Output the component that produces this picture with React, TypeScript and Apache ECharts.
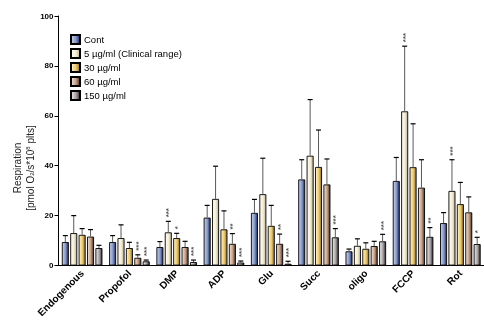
import React, { useEffect, useRef } from "react";
import * as echarts from "echarts";

const categories = ["Endogenous", "Propofol", "DMP", "ADP", "Glu", "Succ", "oligo", "FCCP", "Rot"];
const seriesNames = ["Cont", "5 µg/ml (Clinical range)", "30 µg/ml", "60 µg/ml", "150 µg/ml"];

const cont = [9.4, 9.4, 7.4, 19.2, 21.1, 34.5, 5.7, 33.9, 17];
const contSd = [2.6, 2.6, 2.2, 4.9, 5.4, 7.9, 0.9, 9.4, 4.2];
const c5 = [13, 11, 13.3, 26.7, 28.6, 44, 7.9, 61.8, 29.9];
const c5Sd = [7, 5.3, 4.4, 13.1, 14.4, 22.5, 2.8, 26.1, 12.5];
const c30 = [12.3, 7, 11, 14.5, 15.9, 39.5, 6.7, 39.4, 24.6];
const c30Sd = [2.5, 2.3, 1.9, 7.4, 8.2, 14.8, 2.4, 17.4, 8.7];
const c60 = [11.6, 3.1, 7.4, 8.7, 8.7, 32.5, 7.8, 31.2, 21.3];
const c60Sd = [2.8, 1.2, 2.3, 4.1, 3.9, 10.2, 1.9, 11.2, 6.2];
const c150 = [7, 1.7, 1.4, 1.2, 0.7, 11.3, 9.7, 11.5, 8.6];
const c150Sd = [1.1, 0.5, 0.8, 0.6, 1.0, 3.5, 2.8, 3.7, 2.7];

const sigCont = ["", "", "", "", "", "", "", "", ""];
const sig5 = ["", "", "***", "", "", "", "", "***", "***"];
const sig30 = ["", "", "*", "", "", "", "", "", ""];
const sig60 = ["", "***", "", "**", "**", "", "", "", ""];
const sig150 = ["", "***", "***", "***", "***", "***", "***", "**", "*"];

const yTicks = [0, 20, 40, 60, 80, 100];

const means = [cont, c5, c30, c60, c150];
const sds = [contSd, c5Sd, c30Sd, c60Sd, c150Sd];
const sigs = [sigCont, sig5, sig30, sig60, sig150];

const grads = [
  ["#ccd3e4", "#8596c4", "#1c2a68"],
  ["#fffdf6", "#f3ecd8", "#bfb08c"],
  ["#fff4d4", "#e9c875", "#8d6a1c"],
  ["#f3e6de", "#c39f88", "#50321f"],
  ["#ecebeb", "#aaa4a4", "#332d2d"],
];

const FONT = "'Liberation Sans', Arial, sans-serif";
const BAR_W = 7;
const PITCH = 8.4;

function gradient(c: string[]) {
  return new echarts.graphic.LinearGradient(0, 0, 1, 0, [
    { offset: 0, color: c[0] },
    { offset: 0.55, color: c[1] },
    { offset: 1, color: c[2] },
  ]);
}

export default function App() {
  const ref = useRef<HTMLDivElement>(null);
  useEffect(() => {
    if (!ref.current) return;
    const chart = echarts.init(ref.current, null, { renderer: "svg" });

    const barSeries = seriesNames.map((name, k) => ({
      name,
      type: "bar",
      barWidth: BAR_W,
      barGap: "20%",
      data: means[k],
      itemStyle: { color: gradient(grads[k]), borderColor: "#000", borderWidth: 0.9 },
      z: 2,
    }));

    const errSeries = seriesNames.map((_, k) => ({
      type: "custom",
      z: 3,
      data: means[k].map((m, i) => [i, m, m + sds[k][i]]),
      encode: { x: 0, y: [1, 2] },
      renderItem: (params: any, api: any) => {
        const ci = api.value(0);
        const p0 = api.coord([ci, api.value(1)]);
        const p1 = api.coord([ci, api.value(2)]);
        const x = p0[0] + (k - 2) * PITCH;
        const children: any[] = [
          { type: "line", shape: { x1: x, y1: p0[1], x2: x, y2: p1[1] }, style: { stroke: "#5a5a5a", lineWidth: 1 } },
          { type: "line", shape: { x1: x - 2.5, y1: p1[1], x2: x + 2.5, y2: p1[1] }, style: { stroke: "#000", lineWidth: 1.2 } },
        ];
        const s = sigs[k][params.dataIndex];
        if (s) {
          children.push({
            type: "text",
            x: x + 0.5,
            y: p1[1] - 4,
            rotation: Math.PI / 2,
            style: { text: s, font: `bold 8px ${FONT}`, fill: "#555", align: "left", verticalAlign: "middle" },
          });
        }
        return { type: "group", children };
      },
    }));

    chart.setOption({
      animation: false,
      grid: { left: 58.5, right: -6.5, top: 16, bottom: 51 },
      legend: {
        data: seriesNames,
        orient: "vertical",
        left: 70,
        top: 34,
        padding: 0,
        itemWidth: 9,
        itemHeight: 9,
        itemGap: 3,
        icon: "rect",
        textStyle: { fontFamily: FONT, fontSize: 9.5, color: "#000", padding: [0, 0, 0, -1] },
      },
      xAxis: {
        type: "category",
        data: categories,
        axisLine: { lineStyle: { color: "#000", width: 1 } },
        axisTick: { alignWithLabel: true, length: 4, lineStyle: { color: "#000" } },
        axisLabel: { rotate: 45, fontFamily: FONT, fontSize: 10, fontWeight: "bold", color: "#000", margin: 6, interval: 0 },
      },
      yAxis: {
        type: "value",
        min: yTicks[0],
        max: yTicks[yTicks.length - 1],
        interval: 20,
        splitLine: { show: false },
        axisLine: { show: true, lineStyle: { color: "#000", width: 1 } },
        axisTick: { show: true, length: 4, lineStyle: { color: "#000" } },
        axisLabel: { fontFamily: FONT, fontSize: 8, fontWeight: "bold", color: "#000", margin: 5 },
      },
      graphic: [
        {
          type: "text",
          x: 17,
          y: 168,
          rotation: Math.PI / 2,
          style: { text: "Respiration", font: `10px ${FONT}`, fill: "#222", align: "center", verticalAlign: "middle" },
        },
        {
          type: "text",
          x: 30,
          y: 168,
          rotation: Math.PI / 2,
          style: {
            text: "[pmol O{sub|2}/s*10{sup|8} plts]",
            font: `10px ${FONT}`,
            fill: "#222",
            align: "center",
            verticalAlign: "middle",
            rich: {
              sub: { fontSize: 6, fontFamily: FONT, fill: "#222", verticalAlign: "bottom", padding: [4, 0, 0, 0] },
              sup: { fontSize: 6, fontFamily: FONT, fill: "#222", verticalAlign: "top", padding: [0, 0, 4, 0] },
            },
          },
        },
      ],
      series: [...barSeries, ...errSeries],
    });
    return () => chart.dispose();
  }, []);
  return <div ref={ref} style={{ position: "fixed", left: 0, top: 0, width: 484, height: 320 }} />;
}
